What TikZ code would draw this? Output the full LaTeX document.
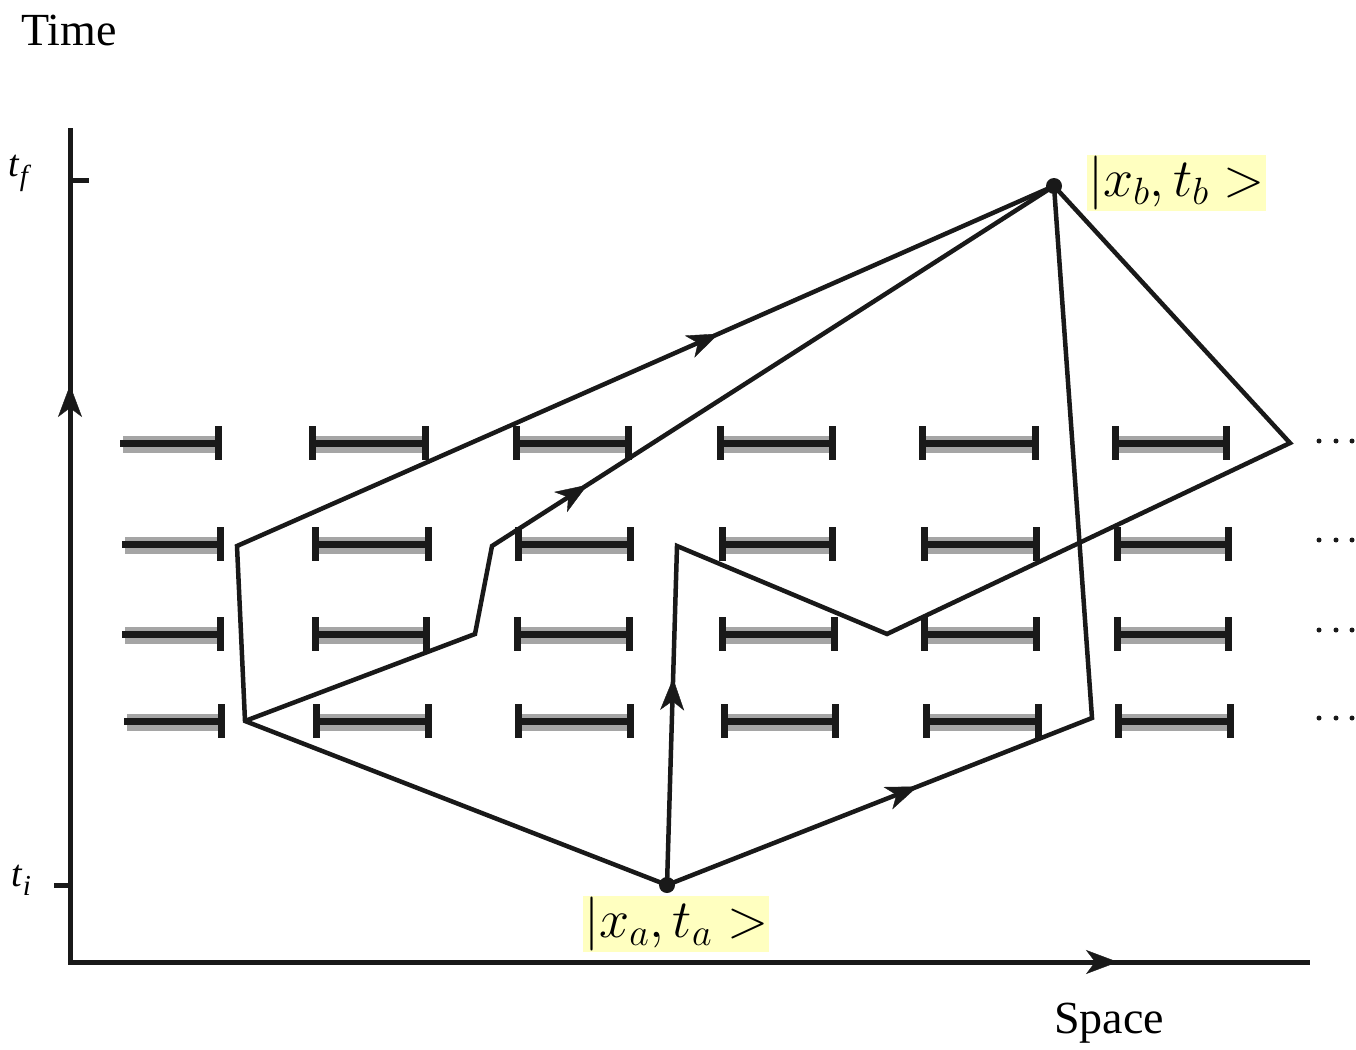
\RequirePackage{fix-cm}
\documentclass[tikz,border=0pt]{standalone}
\usepackage{fontspec}
\setmainfont{Liberation Serif}
\usetikzlibrary{arrows.meta,decorations.markings}

\definecolor{labelyellow}{RGB}{255,255,192}
\definecolor{slitgray}{RGB}{165,165,165}
\definecolor{ink}{RGB}{25,25,25}

\DeclareMathSizes{54}{54}{38}{28}

\tikzset{
  >={Stealth[length=32pt,width=24pt,inset=9pt]},
  axisline/.style={line width=5pt, draw=ink},
  pathline/.style={line width=4.5pt, draw=ink, line join=miter},
  slitshade/.style={line width=17pt, draw=slitgray},
  slitbar/.style={line width=7pt, draw=ink},
  slitend/.style={line width=7pt, draw=ink},
  stateDot/.style={circle, fill=ink, inner sep=0pt, minimum size=16pt},
  statelabel/.style={fill=labelyellow, inner sep=1pt, font=\fontsize{54}{62}\selectfont},
  axislabel/.style={inner sep=0pt, font=\fontsize{46}{52}\selectfont},
  ticklabel/.style={inner sep=0pt, font=\fontsize{38}{40}\selectfont\itshape},
  midarrow/.style={postaction={decorate}, decoration={markings,
      mark=at position #1 with {\arrow[ink]{>}}}},
  gapdot/.style={circle, fill=ink, inner sep=0pt, minimum size=5pt}
}

\begin{document}
\begin{tikzpicture}[x=1pt, y=-1pt]
\useasboundingbox (0,0) rectangle (1356,1049);

% axes
\coordinate (O) at (70,962);
\coordinate (Ttop) at (70,128);
\coordinate (Xend) at (1310,962);
\coordinate (Ttip) at (70,385);
\coordinate (Xtip) at (1118,962);
\draw[axisline] (Ttop) -- (O) -- (Xend);
\path[midarrow=1] (O) -- (Ttip);
\path[midarrow=1] (O) -- (Xtip);

% ticks
\coordinate (tf) at (70,180);
\coordinate (ti) at (70,885);
\draw[axisline] (tf) -- ++(19,0);
\draw[axisline] (ti) -- ++(-16,0);

% axis labels
\node[axislabel, anchor=base west] (time) at (21,46) {Time};
\node[axislabel, anchor=base west] (space) at (1054,1033) {Space};
\node[ticklabel, anchor=base west] (tflabel) at (8,176) {t\kern1pt\raisebox{-9pt}{\fontsize{29}{30}\selectfont f}};
\node[ticklabel, anchor=base west] (tilabel) at (11,886) {t\kern1pt\raisebox{-9pt}{\fontsize{29}{30}\selectfont i}};

% slits: x1/x2/y/left end cap (1 = yes)
\foreach \xa/\xb/\yy/\lc in {
  120/218/443/0, 312/425/443/1, 516/628/443/1, 720/832/443/1, 922/1035/443/1, 1115/1226/443/1,
  122/220/544/0, 315/428/544/1, 518/630/544/1, 722/832/544/1, 924/1036/544/1, 1117/1228/544/1,
  122/220/634/0, 315/426/634/1, 517/629/634/1, 722/834/634/1, 924/1036/634/1, 1117/1228/634/1,
  124/221/721/0, 316/428/721/1, 518/630/721/1, 724/835/721/1, 926/1038/721/1, 1118/1230/721/1} {
  \draw[slitshade] (\xa+3,\yy+1) -- (\xb-2,\yy+1);
  \draw[slitbar] (\xa,\yy) -- (\xb,\yy);
  \draw[slitend] (\xb,\yy-17) -- (\xb,\yy+17);
  \ifnum\lc=1
    \draw[slitend] (\xa,\yy-17) -- (\xa,\yy+17);
  \fi
}

% continuation dots
\foreach \yy in {441,540,630,718} {
  \foreach \xx in {1319,1336,1352} {
    \node[gapdot] at (\xx,\yy) {};
  }
}

% end points
\coordinate (A) at (667,885);
\coordinate (B) at (1054,186);

% path corners
\coordinate (p1) at (245,721);
\coordinate (p2) at (237,546);
\coordinate (q1) at (475,634);
\coordinate (q2) at (492,546);
\coordinate (r1) at (677,546);
\coordinate (r2) at (887,634);
\coordinate (r3) at (1290,443);
\coordinate (s1) at (1092,718);

% paths
\draw[pathline] (A) -- (p1) -- (p2) -- (B);
\draw[pathline] (p1) -- (q1) -- (q2) -- (B);
\draw[pathline] (A) -- (r1) -- (r2) -- (r3) -- (B);
\draw[pathline] (A) -- (s1) -- (B);

% direction arrows
\path[midarrow=0.59] (p2) -- (B);
\path[midarrow=0.17] (q2) -- (B);
\path[midarrow=0.61] (A) -- (r1);
\path[midarrow=0.59] (A) -- (s1);

% state dots and labels
\node[stateDot] (Adot) at (A) {};
\node[stateDot] (Bdot) at (B) {};
\node[statelabel, anchor=north west] (Alabel) at (583,896) {$|x_a,t_a>$};
\node[statelabel, anchor=north west] (Blabel) at (1087,155) {$|x_b,t_b>$};

\end{tikzpicture}
\end{document}
